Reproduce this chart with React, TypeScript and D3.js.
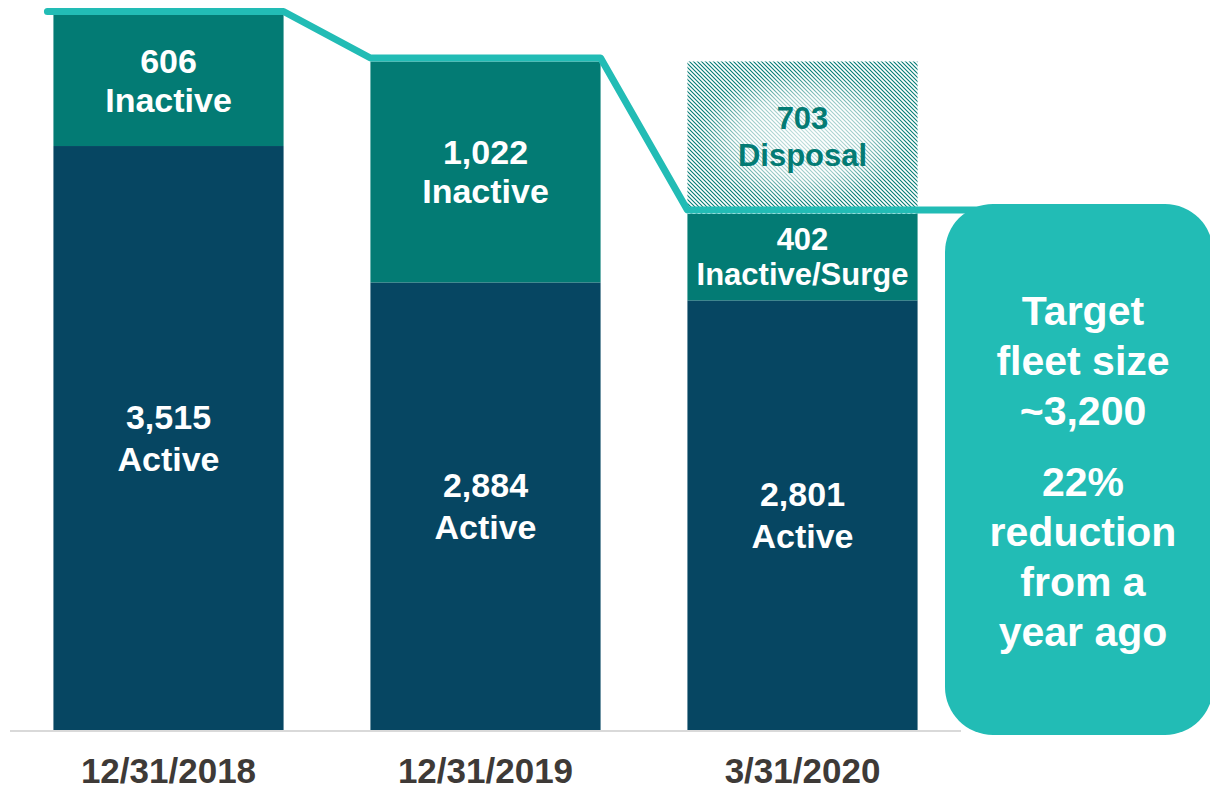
import React from 'react';
import * as d3 from 'd3';

const categories = ['12/31/2018', '12/31/2019', '3/31/2020'];
const active = [3515, 2884, 2801];
const inactive = [606, 1022, 402];
const disposal = [0, 0, 703];
const inactiveLabels = ['Inactive', 'Inactive', 'Inactive/Surge'];
const calloutTop = ['Target', 'fleet size', '~3,200'];
const calloutBottom = ['22%', 'reduction', 'from a', 'year ago'];

const W = 1210;
const H = 791;
const ACTIVE = '#064662';
const INACTIVE = '#037B74';
const TEAL = '#22BCB5';
const FONT = '"Liberation Sans", Arial, sans-serif';

const fmt = d3.format(',');

export default function App() {
  const x = d3.scaleBand<string>()
    .domain(categories)
    .range([10, 961])
    .paddingInner(0.274)
    .paddingOuter(0.137);
  const bw = x.bandwidth();

  // axis doesn't start at zero in the original
  const y = d3.scaleLinear().domain([814, 4121]).range([730, 15]);

  const bars = categories.map((c, i) => {
    const a = active[i];
    const t = a + inactive[i];
    return {
      c,
      x0: x(c) as number,
      yActive: y(a),
      yInactive: y(t),
      yDisposal: y(t + disposal[i]),
      level: y(t),
    };
  });

  // step line over the tops
  const pts: [number, number][] = [];
  bars.forEach((b, i) => {
    const ly = b.level - 3.5;
    pts.push([i === 0 ? b.x0 - 6 : b.x0, ly]);
    pts.push([i === bars.length - 1 ? 1000 : b.x0 + bw, ly]);
  });
  const line = d3.line();

  const label = (cx: number, cy: number, lines: string[], size: number, gap: number, fill = '#fff') => (
    <g>
      {lines.map((l, k) => (
        <text key={k} x={cx} y={cy + (k - (lines.length - 1) / 2) * gap}
          textAnchor="middle" dominantBaseline="central"
          fontFamily={FONT} fontWeight="bold" fontSize={size} fill={fill}>{l}</text>
      ))}
    </g>
  );

  return (
    <svg width={W} height={H} style={{ position: 'absolute', left: 0, top: 0, background: '#fff' }}>
      <defs>
        <pattern id="hatch" patternUnits="userSpaceOnUse" width="4" height="4">
          <path d="M-1,-1 L5,5 M-1,3 L1,5 M3,-1 L5,1" stroke={INACTIVE} strokeWidth="1.1" />
        </pattern>
        <radialGradient id="glow" cx="0.5" cy="0.5" r="0.5">
          <stop offset="0%" stopColor="#fff" stopOpacity={0.75} />
          <stop offset="60%" stopColor="#fff" stopOpacity={0.6} />
          <stop offset="100%" stopColor="#fff" stopOpacity={0} />
        </radialGradient>
      </defs>

      {bars.map((b, i) => (
        <g key={b.c}>
          <rect x={b.x0} y={b.yActive} width={bw} height={730 - b.yActive} fill={ACTIVE} />
          <rect x={b.x0} y={b.yInactive} width={bw} height={b.yActive - b.yInactive} fill={INACTIVE} />
          {disposal[i] > 0 && (
            <g>
              <rect x={b.x0} y={b.yDisposal} width={bw} height={b.yInactive - b.yDisposal} fill="url(#hatch)" />
              <rect x={b.x0 + 10} y={b.yDisposal + 10} width={bw - 20} height={b.yInactive - b.yDisposal - 20}
                fill="url(#glow)" />
              <line x1={b.x0} x2={b.x0 + bw} y1={b.yInactive} y2={b.yInactive}
                stroke="#fff" strokeWidth={1.2} strokeDasharray="3,2" />
              {label(b.x0 + bw / 2, (b.yDisposal + b.yInactive) / 2, [fmt(disposal[i]), 'Disposal'], 31, 37, INACTIVE)}
            </g>
          )}
          {label(b.x0 + bw / 2, (b.yActive + b.yInactive) / 2, [fmt(inactive[i]), inactiveLabels[i]],
            i === 2 ? 31 : 34, i === 2 ? 35 : 39)}
          {label(b.x0 + bw / 2, (b.yActive + 730) / 2, [fmt(active[i]), 'Active'], 34, 42)}
          <text x={b.x0 + bw / 2} y={783} textAnchor="middle" fontFamily={FONT} fontWeight="bold"
            fontSize={35} fill="#3E3A37">{b.c}</text>
        </g>
      ))}

      <line x1={10} x2={961} y1={731} y2={731} stroke="#D9D9D9" strokeWidth={2} />

      <path d={line(pts) || ''} fill="none" stroke={TEAL} strokeWidth={7} strokeLinecap="round" strokeLinejoin="round" />

      <rect x={945} y={204} width={268} height={531} rx={48} ry={48} fill={TEAL} />
      {label(1083, 361, calloutTop, 41, 50)}
      {label(1083, 557, calloutBottom, 41, 50)}
    </svg>
  );
}
